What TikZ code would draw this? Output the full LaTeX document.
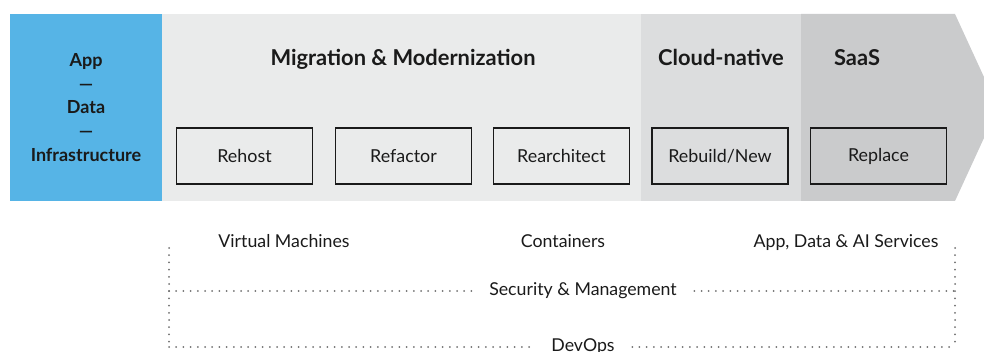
\documentclass[tikz,border=0pt]{standalone}
\usepackage{fontspec}
\setmainfont{Lato}
\definecolor{blueband}{HTML}{56B4E6}
\definecolor{greyA}{HTML}{EAEBEB}
\definecolor{greyB}{HTML}{DCDDDE}
\definecolor{greyC}{HTML}{CACBCC}
\definecolor{ink}{HTML}{1A1A1A}
\definecolor{dotgrey}{HTML}{707070}
\begin{document}
\begin{tikzpicture}[x=0.75pt,y=-0.75pt,
  every node/.style={text=ink},
  phase/.style={font=\fontsize{16.4pt}{19pt}\selectfont\bfseries,anchor=base},
  stepbox/.style={draw=ink,line width=1.1pt,minimum width=102pt,minimum height=42pt,inner sep=0pt,font=\fontsize{13.4pt}{16pt}\selectfont},
  layer/.style={font=\fontsize{13.3pt}{16pt}\selectfont,inner xsep=13pt,inner ysep=2pt},
  dotline/.style={draw=dotgrey,line width=1.5pt,line cap=round,dash pattern=on 0pt off 5.4pt}]
\useasboundingbox (0,0) rectangle (984,352);
\clip (0,0) rectangle (984,352);
% bands
\fill[blueband] (10,14) rectangle (162,201);
\fill[greyA] (162,14) rectangle (641,201);
\fill[greyB] (641,14) rectangle (801,201);
\fill[greyC] (801,14) -- (955,14) -- (998,107.5) -- (955,201) -- (801,201) -- cycle;
% left label
\node[align=center,font=\fontsize{13.5pt}{17.8pt}\selectfont\bfseries] (stack) at (86,107.5) {App\\—\\Data\\—\\Infrastructure};
% phase titles
\node[phase] (mig) at (403,65.5) {Migration \& Modernization};
\node[phase] (cn) at (721,65.5) {Cloud-native};
\node[phase] (saas) at (857,65.5) {SaaS};
% step boxes
\node[stepbox] (rehost) at (244.5,156) {Rehost};
\node[stepbox] (refactor) at (403.5,156) {Refactor};
\node[stepbox] (rearch) at (561.5,156) {Rearchitect};
\node[stepbox] (rebuild) at (720,156) {Rebuild/New};
\node[stepbox] (replace) at (878.5,156) {Replace};
% bottom labels
\node[layer,inner xsep=0pt,anchor=base] (vm) at (284,248) {Virtual Machines};
\node[layer,inner xsep=0pt,anchor=base] (cont) at (563,248) {Containers};
\node[layer,inner xsep=0pt,anchor=base] (apps) at (846,248) {App, Data \& AI Services};
\node[layer] (sec) at (583,291) {Security \& Management};
\node[layer] (devops) at (583,347) {DevOps};
% dotted frame
\coordinate (lt) at (169,248);
\coordinate (lm) at (169,291);
\coordinate (lb) at (169,347);
\coordinate (rt) at (955,248);
\coordinate (rm) at (955,291);
\coordinate (rb) at (955,347);
\draw[dotline] (lt) -- (lb);
\draw[dotline] (rt) -- (rb);
\draw[dotline] (lm) -- (sec.west);
\draw[dotline] (sec.east) -- (rm);
\draw[dotline] (lb) -- (devops.west);
\draw[dotline] (devops.east) -- (rb);
\end{tikzpicture}
\end{document}
